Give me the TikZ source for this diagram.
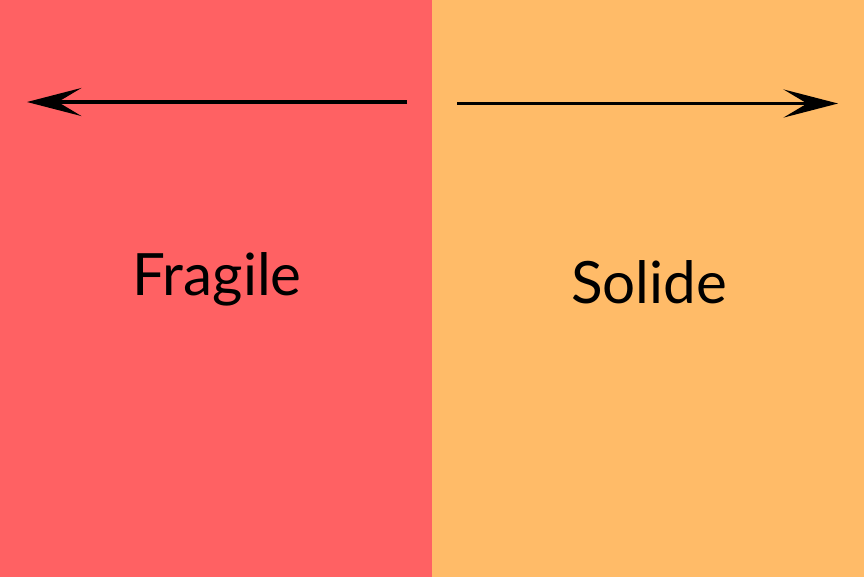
\documentclass[tikz,border=0pt]{standalone}
\usepackage{fontspec}
\setmainfont{Lato}
\usetikzlibrary{arrows.meta}

\definecolor{fragilered}{HTML}{FF6163}
\definecolor{solideorange}{HTML}{FFBB68}

\begin{document}
\begin{tikzpicture}[
    >={Stealth[length=15.5pt, width=8pt, inset=6.7pt]},
    side/.style={draw=none, inner sep=0pt, outer sep=0pt, minimum width=4.42cm, minimum height=5.96cm},
    label/.style={font=\fontsize{16.6}{18}\selectfont, anchor=base},
    push/.style={line width=0.9pt, ->}
]
\useasboundingbox (0,0) rectangle (8.64,5.76);
% the two halves
\node[side, fill=fragilered, anchor=east] (left) at (4.32,2.88) {};
\node[side, fill=solideorange, anchor=west] (right) at (4.32,2.88) {};
% texts
\node[label] (fragile) at (2.17,2.81) {Fragile};
\node[label] (solide) at (6.49,2.73) {Solide};
% arrows
\coordinate (lstart) at (4.07,4.74);
\coordinate (lend) at (0.27,4.74);
\coordinate (rstart) at (4.57,4.725);
\coordinate (rend) at (8.38,4.725);
\draw[push] (lstart) -- (lend);
\draw[push] (rstart) -- (rend);
\end{tikzpicture}
\end{document}
